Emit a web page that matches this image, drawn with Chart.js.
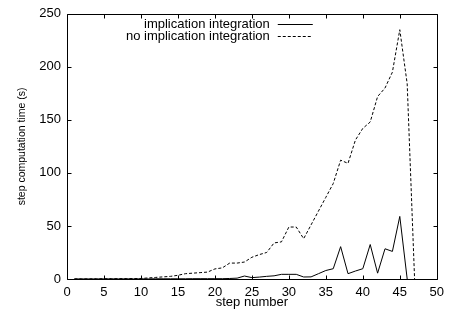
<!DOCTYPE html>
<html>
<head>
<meta charset="utf-8">
<script src="https://cdn.jsdelivr.net/npm/chart.js@4/dist/chart.umd.min.js"></script>
<style>
  html, body { margin: 0; padding: 0; background: #fff; }
  #wrap { width: 450px; height: 321px; }
</style>
</head>
<body>
<div id="wrap"><canvas id="steps"></canvas></div>
<script>
// step computation time per step
const steps = [1, 2, 3, 4, 5, 6, 7, 8, 9, 10, 11, 12, 13, 14, 15, 16, 17, 18, 19, 20,
               21, 22, 23, 24, 25, 26, 27, 28, 29, 30, 31, 32, 33, 34, 35, 36, 37, 38, 39, 40,
               41, 42, 43, 44, 45, 46, 47];
const withImpl = [0.05, 0.05, 0.05, 0.05, 0.1, 0.1, 0.1, 0.1, 0.1, 0.1, 0.1, 0.2, 0.2, 0.2, 0.2, 0.2, 0.3, 0.3, 0.3, 0.3,
                  0.3, 0.5, 0.8, 2.8, 1.3, 1.8, 2.5, 3, 4.4, 4.4, 4.4, 1.9, 2, 5, 8, 9.7, 30.5, 5, 7.5, 9.7,
                  32.5, 5.5, 28.5, 26, 59, 0];
const noImpl = [0.1, 0.1, 0.1, 0.2, 0.2, 0.3, 0.3, 0.4, 0.4, 0.5, 1.0, 1.5, 2.0, 2.5, 3.5, 5.0, 5.5, 6.0, 6.5, 9.5,
                10.5, 15, 15, 16, 20.5, 23, 25, 34, 35, 49, 49, 38, 51, 64, 77, 90, 112, 109, 131, 142,
                148, 172, 180, 195, 235, 184, 0];
const xTicks = [0, 5, 10, 15, 20, 25, 30, 35, 40, 45, 50];
const yTicks = [0, 50, 100, 150, 200, 250];
const seriesNames = ["implication integration", "no implication integration"];

const FONT = "'Liberation Sans', Arial, Helvetica, sans-serif";

function pts(ys) {
  return ys.map((v, i) => ({ x: steps[i], y: v }));
}

// gnuplot-like frame with inward ticks on all four sides
const framePlugin = {
  id: 'frame',
  afterDatasetsDraw(chart) {
    const { ctx, chartArea: a, scales } = chart;
    const L = Math.round(a.left) + 0.5, R = Math.round(a.right) + 0.5;
    const T = Math.round(a.top) + 0.5, B = Math.round(a.bottom) + 0.5;
    const len = 4;
    ctx.save();
    ctx.strokeStyle = '#000';
    ctx.lineWidth = 1;
    ctx.setLineDash([]);
    ctx.beginPath();
    ctx.rect(L, T, R - L, B - T);
    xTicks.forEach(v => {
      const px = Math.round(scales.x.getPixelForValue(v)) + 0.5;
      ctx.moveTo(px, B); ctx.lineTo(px, B - len);
      ctx.moveTo(px, T); ctx.lineTo(px, T + len);
    });
    yTicks.forEach(v => {
      const py = Math.round(scales.y.getPixelForValue(v)) + 0.5;
      ctx.moveTo(L, py); ctx.lineTo(L + len, py);
      ctx.moveTo(R, py); ctx.lineTo(R - len, py);
    });
    ctx.stroke();
    ctx.restore();
  }
};

// key in the top right, text right-aligned with line sample after it
const keyPlugin = {
  id: 'key',
  afterDraw(chart) {
    const { ctx, chartArea: a } = chart;
    const textRight = a.right - 167;
    const lineL = a.right - 159, lineR = a.right - 124;
    ctx.save();
    ctx.font = "13px " + FONT;
    ctx.fillStyle = '#000';
    ctx.textAlign = 'right';
    ctx.textBaseline = 'middle';
    chart.data.datasets.forEach((ds, i) => {
      const y = Math.round(a.top + 10 + i * 12) + 0.5;
      ctx.fillText(ds.label, textRight, y);
      ctx.strokeStyle = ds.borderColor;
      ctx.lineWidth = 1;
      ctx.setLineDash(ds.borderDash || []);
      ctx.beginPath();
      ctx.moveTo(lineL, y);
      ctx.lineTo(lineR, y);
      ctx.stroke();
    });
    ctx.restore();
  }
};

new Chart("steps", {
  type: "line",
  data: {
    datasets: [
      {
        label: seriesNames[0],
        data: pts(withImpl),
        borderColor: "#000",
        borderWidth: 1,
        pointRadius: 0,
        tension: 0,
        fill: false
      },
      {
        label: seriesNames[1],
        data: pts(noImpl),
        borderColor: "#000",
        borderWidth: 1,
        borderDash: [3, 2],
        pointRadius: 0,
        tension: 0,
        fill: false
      }
    ]
  },
  options: {
    responsive: true,
    maintainAspectRatio: false,
    animation: false,
    layout: { padding: { top: 11, right: 9, left: 0, bottom: 0 } },
    plugins: {
      legend: { display: false },
      tooltip: { enabled: false }
    },
    scales: {
      x: {
        type: "linear",
        min: 0,
        max: 50,
        afterBuildTicks: s => { s.ticks = xTicks.map(v => ({ value: v })); },
        afterFit: s => { s.height = 42; },
        grid: { display: false, drawTicks: false },
        border: { display: false },
        ticks: { color: "#000", padding: 6, maxRotation: 0, font: { family: FONT, size: 13 } },
        title: {
          display: true,
          text: "step number",
          color: "#000",
          padding: { top: 0, bottom: 11 },
          font: { family: FONT, size: 13 }
        }
      },
      y: {
        min: 0,
        max: 250,
        afterBuildTicks: s => { s.ticks = yTicks.map(v => ({ value: v })); },
        afterFit: s => { s.width = 67; },
        grid: { display: false, drawTicks: false },
        border: { display: false },
        ticks: { color: "#000", padding: 6, font: { family: FONT, size: 13 } },
        title: {
          display: true,
          text: "step computation time (s)",
          color: "#000",
          padding: { top: 16, bottom: 0 },
          font: { family: FONT, size: 10.5 }
        }
      }
    }
  },
  plugins: [framePlugin, keyPlugin]
});
</script>
</body>
</html>
